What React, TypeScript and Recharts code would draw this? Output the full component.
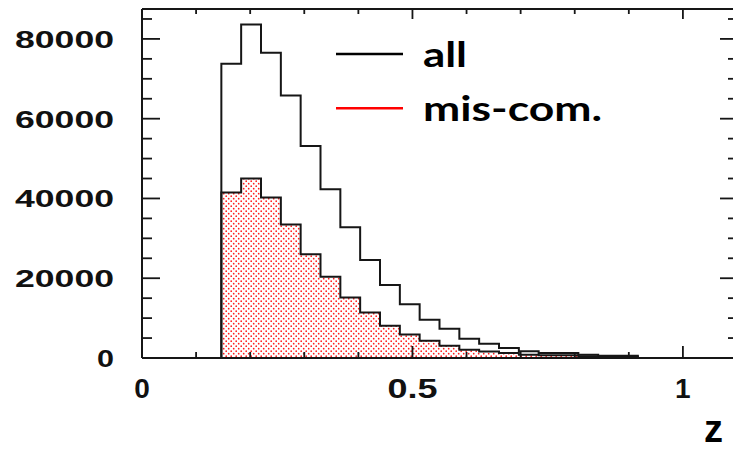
import { ComposedChart, Area, XAxis, YAxis, Legend, ReferenceLine } from "recharts";

// bin edges of the z histogram (30 bins over 0..1.1, filled from 0.147 on)
const binEdges = [
  0.1467, 0.1833, 0.22, 0.2567, 0.2933, 0.33, 0.3667, 0.4033, 0.44, 0.4767, 0.5133,
  0.55, 0.5867, 0.6233, 0.66, 0.6967, 0.7333, 0.77, 0.8067, 0.8433, 0.88, 0.9167,
];

const allCounts = [
  73750, 83600, 76500, 65800, 53150, 42300, 32750, 24600, 18300, 13500, 9580,
  7330, 4830, 3580, 2500, 1700, 1250, 1250, 830, 580, 580,
];

const misCounts = [
  41500, 45000, 40250, 33500, 26000, 20400, 15150, 11400, 8080, 5900, 4330,
  3080, 2080, 1650, 1250, 830, 700, 700, 450, 330, 330,
];

const xTicks = [0, 0.1, 0.2, 0.3, 0.4, 0.5, 0.6, 0.7, 0.8, 0.9, 1.0];
const xLabels: Record<string, string> = { "0": "0", "0.5": "0.5", "1": "1" };
const yTicks = [
  0, 5000, 10000, 15000, 20000, 25000, 30000, 35000, 40000, 45000, 50000,
  55000, 60000, 65000, 70000, 75000, 80000, 85000,
];
const Y_MAX = 87500;

const legendItems = [
  { key: "all", label: "all", color: "#000000", width: 44 },
  { key: "mis", label: "mis-com.", color: "#ff0000", width: 179 },
];

const INK = "#161616";
const FONT = "'Liberation Sans', Arial, sans-serif";

// step outline: extra zero point at the first edge, and a zero at the last edge
const histData = [
  { z: binEdges[0], all: 0, mis: 0 },
  ...binEdges.map((e, i) => ({
    z: e,
    all: i < allCounts.length ? allCounts[i] : 0,
    mis: i < misCounts.length ? misCounts[i] : 0,
  })),
];

const isMajorX = (v: number) => Math.abs(v * 2 - Math.round(v * 2)) < 1e-6;
const isMajorY = (v: number) => v % 20000 === 0;

function BottomTick(props: any) {
  const { x, y, payload } = props;
  const major = isMajorX(payload.value);
  const label = xLabels[String(payload.value)];
  return (
    <g>
      <line x1={x} x2={x} y1={y} y2={y - (major ? 12 : 6)} stroke={INK} strokeWidth={1.8} />
      {label !== undefined && (
        <text
          x={x}
          y={y + 40}
          textAnchor="middle"
          fontFamily={FONT}
          fontWeight="bold"
          fontSize={28}
          fill="#111"
          textLength={label.length > 1 ? 50 : undefined}
          lengthAdjust="spacingAndGlyphs"
        >
          {label}
        </text>
      )}
    </g>
  );
}

function TopTick(props: any) {
  const { x, y, payload } = props;
  const major = isMajorX(payload.value);
  return <line x1={x} x2={x} y1={y} y2={y + (major ? 10 : 5)} stroke={INK} strokeWidth={1.8} />;
}

function LeftTick(props: any) {
  const { x, y, payload } = props;
  const major = isMajorY(payload.value);
  const label = String(payload.value);
  return (
    <g>
      <line x1={x} x2={x + (major ? 18 : 10)} y1={y} y2={y} stroke={INK} strokeWidth={1.8} />
      {major && (
        <text
          x={x - 28}
          y={y + 9}
          textAnchor="end"
          fontFamily={FONT}
          fontWeight="bold"
          fontSize={24}
          fill="#111"
          textLength={label.length > 1 ? 99 : 17}
          lengthAdjust="spacingAndGlyphs"
        >
          {label}
        </text>
      )}
    </g>
  );
}

function RightTick(props: any) {
  const { x, y, payload } = props;
  const major = isMajorY(payload.value);
  return <line x1={x} x2={x - (major ? 17 : 9)} y1={y} y2={y} stroke={INK} strokeWidth={1.8} />;
}

function HistLegend() {
  return (
    <svg width={300} height={120}>
      {legendItems.map((item, i) => (
        <g key={item.key}>
          <line x1={6} x2={73} y1={34 + i * 54.3} y2={34 + i * 54.3} stroke={item.color} strokeWidth={2.4} />
          <text
            x={93}
            y={46.7 + i * 54.5}
            fontFamily="Lato, 'Open Sans', sans-serif"
            fontWeight="bold"
            fontSize={34}
            fill="#000"
            textLength={item.width}
            lengthAdjust="spacingAndGlyphs"
          >
            {item.label}
          </text>
        </g>
      ))}
    </svg>
  );
}

function ZLabel(props: any) {
  const { viewBox } = props;
  return (
    <text
      x={viewBox.x + viewBox.width - 33}
      y={viewBox.y + viewBox.height - 9}
      fontFamily={FONT}
      fontWeight="bold"
      fontSize={38}
      fill="#000"
    >
      z
    </text>
  );
}

export default function App() {
  return (
    <div style={{ position: "fixed", left: 0, top: 0, width: 733, height: 451, overflow: "hidden", background: "#fff" }}>
      <ComposedChart width={745} height={451} data={histData} margin={{ top: 7, right: 0, bottom: 0, left: 0 }}>
        <defs>
          <pattern id="dots" width={5} height={5} patternUnits="userSpaceOnUse">
            <circle cx={1.2} cy={1.2} r={0.85} fill="#ff1a1a" />
            <circle cx={3.7} cy={3.7} r={0.85} fill="#ff1a1a" />
          </pattern>
        </defs>
        <XAxis
          xAxisId="b"
          dataKey="z"
          type="number"
          domain={[0, 1.1]}
          ticks={xTicks}
          interval={0}
          height={93}
          tickSize={0}
          tickMargin={0}
          tickLine={false}
          axisLine={{ stroke: INK, strokeWidth: 2 }}
          tick={<BottomTick />}
          label={{ content: <ZLabel /> }}
        />
        <XAxis
          xAxisId="t"
          orientation="top"
          dataKey="z"
          type="number"
          domain={[0, 1.1]}
          ticks={xTicks}
          interval={0}
          height={2}
          tickSize={0}
          tickMargin={0}
          tickLine={false}
          axisLine={{ stroke: INK, strokeWidth: 2.2 }}
          tick={<TopTick />}
        />
        <YAxis
          yAxisId="l"
          type="number"
          domain={[0, Y_MAX]}
          ticks={yTicks}
          interval={0}
          width={142}
          tickSize={0}
          tickMargin={0}
          tickLine={false}
          axisLine={{ stroke: INK, strokeWidth: 2 }}
          tick={<LeftTick />}
        />
        <YAxis
          yAxisId="r"
          orientation="right"
          type="number"
          domain={[0, Y_MAX]}
          ticks={yTicks}
          interval={0}
          width={8}
          tickSize={0}
          tickMargin={0}
          tickLine={false}
          axisLine={{ stroke: INK, strokeWidth: 2 }}
          tick={<RightTick />}
        />
        {/* top edge of the frame */}
        <ReferenceLine xAxisId="b" yAxisId="l" y={Y_MAX} stroke={INK} strokeWidth={2.2} ifOverflow="visible" />
        {/* invisible twin so the top / right frame axes get a domain and render */}
        <Area
          xAxisId="t"
          yAxisId="r"
          type="stepAfter"
          dataKey="all"
          stroke="none"
          fill="none"
          legendType="none"
          isAnimationActive={false}
        />
        <Area
          xAxisId="b"
          yAxisId="l"
          type="stepAfter"
          dataKey="mis"
          name="mis-com."
          stroke={INK}
          strokeWidth={2}
          fill="url(#dots)"
          fillOpacity={1}
          isAnimationActive={false}
        />
        <Area
          xAxisId="b"
          yAxisId="l"
          type="stepAfter"
          dataKey="all"
          name="all"
          stroke={INK}
          strokeWidth={2}
          fill="none"
          isAnimationActive={false}
        />
        <Legend
          layout="vertical"
          align="center"
          verticalAlign="middle"
          content={<HistLegend />}
          wrapperStyle={{ left: 330, top: 20, width: 300, height: 120 }}
        />
      </ComposedChart>
    </div>
  );
}
